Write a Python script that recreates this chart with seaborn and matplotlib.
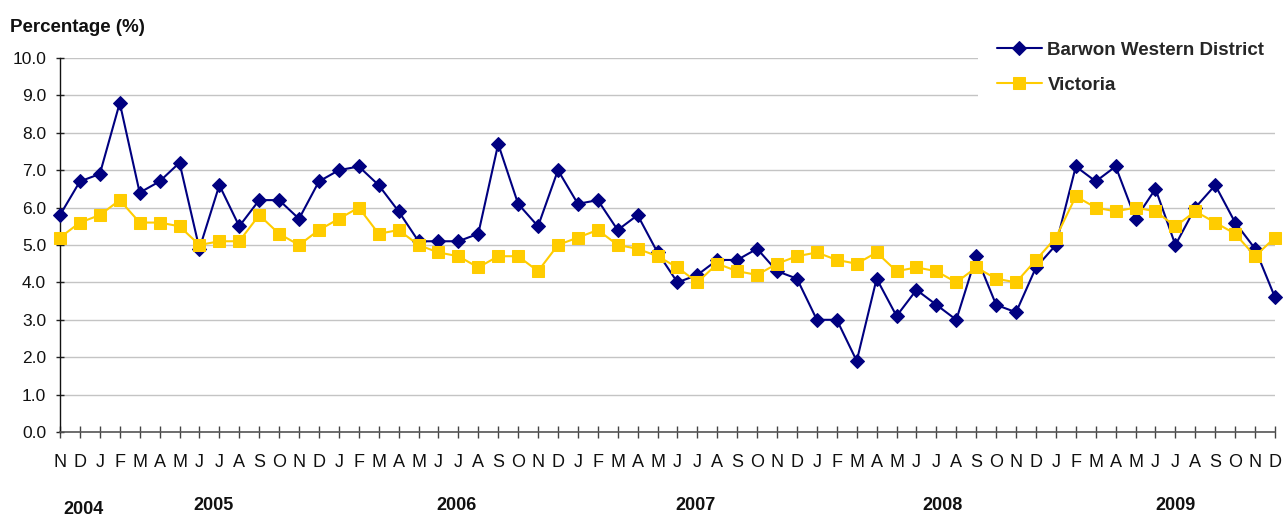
import matplotlib
matplotlib.use('Agg')
import matplotlib.pyplot as plt
import matplotlib.transforms as mtransforms
from matplotlib.patches import Rectangle
import seaborn as sns
import pandas as pd

# Monthly series, Nov 2004 - Dec 2009
months = ['N', 'D'] + ['J', 'F', 'M', 'A', 'M', 'J', 'J', 'A', 'S', 'O', 'N', 'D'] * 5
barwon = [5.8, 6.7,
          6.9, 8.8, 6.4, 6.7, 7.2, 4.9, 6.6, 5.5, 6.2, 6.2, 5.7, 6.7,
          7.0, 7.1, 6.6, 5.9, 5.1, 5.1, 5.1, 5.3, 7.7, 6.1, 5.5, 7.0,
          6.1, 6.2, 5.4, 5.8, 4.8, 4.0, 4.2, 4.6, 4.6, 4.9, 4.3, 4.1,
          3.0, 3.0, 1.9, 4.1, 3.1, 3.8, 3.4, 3.0, 4.7, 3.4, 3.2, 4.4,
          5.0, 7.1, 6.7, 7.1, 5.7, 6.5, 5.0, 6.0, 6.6, 5.6, 4.9, 3.6]
victoria = [5.2, 5.6,
            5.8, 6.2, 5.6, 5.6, 5.5, 5.0, 5.1, 5.1, 5.8, 5.3, 5.0, 5.4,
            5.7, 6.0, 5.3, 5.4, 5.0, 4.8, 4.7, 4.4, 4.7, 4.7, 4.3, 5.0,
            5.2, 5.4, 5.0, 4.9, 4.7, 4.4, 4.0, 4.5, 4.3, 4.2, 4.5, 4.7,
            4.8, 4.6, 4.5, 4.8, 4.3, 4.4, 4.3, 4.0, 4.4, 4.1, 4.0, 4.6,
            5.2, 6.3, 6.0, 5.9, 6.0, 5.9, 5.5, 5.9, 5.6, 5.3, 4.7, 5.2]
years = ['2004', '2005', '2006', '2007', '2008', '2009']
year_pos = [1.2, 7.7, 19.9, 31.9, 44.3, 56.0]

df = pd.DataFrame({'idx': range(len(months)),
                   'Barwon Western District': barwon,
                   'Victoria': victoria})

sns.set_theme(style='white')
plt.rcParams['font.family'] = ['Liberation Sans', 'DejaVu Sans']

fig = plt.figure(figsize=(12.84, 5.16), dpi=100)
ax = fig.add_axes([60 / 1284, 1 - 432 / 516, 1215 / 1284, 374 / 516])

sns.lineplot(data=df, x='idx', y='Barwon Western District', ax=ax,
             color='#000080', marker='D', markersize=7, markeredgecolor='#000080',
             linewidth=1.5, label='Barwon Western District', clip_on=False, zorder=3)
sns.lineplot(data=df, x='idx', y='Victoria', ax=ax,
             color='#FFCC00', marker='s', markersize=8, markeredgecolor='#FFCC00',
             linewidth=1.5, label='Victoria', clip_on=False, zorder=4)

ax.set_xlim(0, len(months) - 1)
ax.set_ylim(0, 10)
ax.set_xticks(df['idx'])
ax.set_xticklabels(months, fontsize=13, color='#111111')
ax.set_yticks(range(11))
ax.set_yticklabels([f'{v:.1f}' for v in range(11)], fontsize=12.5, color='#111111')
ax.set_xlabel('')
ax.set_ylabel('')
ax.yaxis.grid(True, color='#c4c4c4', linewidth=1)
ax.set_axisbelow(True)
ax.tick_params(axis='x', direction='inout', length=8, width=1, color='#444444', pad=12)
ax.tick_params(axis='y', direction='inout', length=6, width=1, color='#222222', pad=7)
ax.tick_params(left=True, bottom=True)
for s in ['top', 'right']:
    ax.spines[s].set_visible(False)
ax.spines['left'].set_color('#111111')
ax.spines['bottom'].set_color('#555555')
ax.spines['left'].set_linewidth(1)
ax.spines['bottom'].set_linewidth(1.2)

# year labels under the month ticks
trans = mtransforms.blended_transform_factory(ax.transData, fig.transFigure)
for i, (yr, xp) in enumerate(zip(years, year_pos)):
    yy = 1 - 509 / 516 if i == 0 else 1 - 506 / 516
    ax.text(xp, yy, yr, transform=trans, ha='center', va='center',
            fontsize=13, fontweight='bold', color='#111111')

fig.text(10 / 1284, 1 - 28 / 516, 'Percentage (%)', fontsize=13.5,
         fontweight='bold', ha='left', va='center', color='#111111')

# white area behind the legend hides the top gridlines up to the right edge
ax.add_patch(Rectangle((978 / 1284, 1 - 114 / 516), 306 / 1284, 94 / 516,
                       transform=fig.transFigure, facecolor='white',
                       edgecolor='none', clip_on=False, zorder=1))

leg = ax.legend(loc='upper left', bbox_to_anchor=(978 / 1284, 1 - 23 / 516),
                bbox_transform=fig.transFigure, frameon=False,
                borderpad=1.0, handlelength=2.4, handletextpad=0.3,
                labelspacing=0.95, borderaxespad=0,
                prop={'weight': 'bold', 'size': 13.5})
leg.set_zorder(10)

fig.savefig('out.png', dpi=100)
